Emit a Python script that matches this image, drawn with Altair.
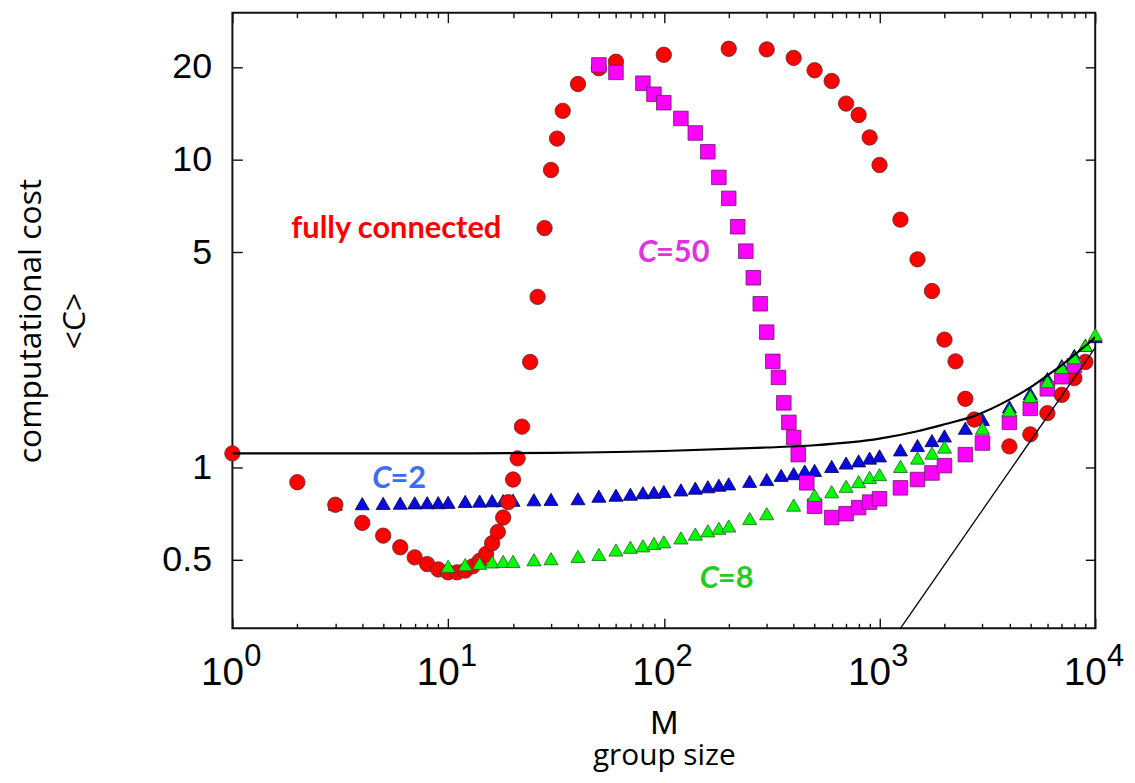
import altair as alt
import pandas as pd

# ---------------- data ----------------
full_M = [1, 2, 3, 4, 5, 6, 7, 8, 9, 10, 11, 12, 13, 14, 15, 16, 17, 18, 19, 20,
          21, 22, 24, 26, 28, 30, 32, 34, 40, 50, 60, 100, 200, 300, 400, 500,
          600, 700, 800, 900, 1000, 1250, 1500, 1750, 2000, 2250, 2500, 2750,
          4000, 5000, 6000, 7000, 8000, 9000]
full_C = [1.11, 0.895, 0.756, 0.66, 0.60, 0.55, 0.51, 0.485, 0.466, 0.456, 0.456,
          0.462, 0.477, 0.497, 0.523, 0.567, 0.617, 0.687, 0.771, 0.913, 1.07,
          1.356, 2.2, 3.58, 5.99, 9.25, 11.7, 14.4, 17.6, 19.8, 20.8, 21.9, 22.9,
          22.8, 21.4, 19.5, 18.0, 15.2, 13.96, 11.8, 9.6, 6.38, 4.74, 3.74, 2.60,
          2.21, 1.67, 1.43, 1.17, 1.28, 1.50, 1.72, 1.95, 2.20]

c2_M = [3, 4, 5, 6, 7, 8, 9, 10, 12, 14, 16, 18, 20, 25, 30, 40, 50, 60, 70, 80,
        90, 100, 120, 140, 160, 180, 200, 250, 300, 350, 400, 450, 500, 600, 700,
        800, 900, 1000, 1250, 1500, 1750, 2000, 2500, 3000, 4000, 5000, 6000,
        7000, 8000, 9000, 10000]
c2_C = [0.76, 0.762, 0.764, 0.765, 0.767, 0.768, 0.768, 0.77, 0.775, 0.777,
        0.779, 0.78, 0.782, 0.785, 0.787, 0.791, 0.806, 0.812, 0.818, 0.827,
        0.83, 0.835, 0.845, 0.856, 0.865, 0.875, 0.884, 0.901, 0.913, 0.942,
        0.954, 0.973, 0.978, 1.007, 1.033, 1.05, 1.072, 1.09, 1.14, 1.178,
        1.222, 1.265, 1.34, 1.432, 1.573, 1.738, 1.944, 2.14, 2.31, 2.49, 2.66]

c8_M = [10, 12, 14, 16, 18, 20, 25, 30, 40, 50, 60, 70, 80, 90, 100, 120, 140,
        160, 180, 200, 250, 300, 400, 500, 600, 700, 800, 900, 1000, 1250, 1500,
        1750, 2000, 3000, 4000, 5000, 6000, 7000, 8000, 9000, 10000]
c8_C = [0.477, 0.483, 0.488, 0.493, 0.495, 0.495, 0.501, 0.505, 0.514, 0.521,
        0.539, 0.55, 0.556, 0.566, 0.573, 0.59, 0.607, 0.622, 0.634, 0.645,
        0.682, 0.707, 0.754, 0.812, 0.833, 0.868, 0.899, 0.928, 0.947, 1.007,
        1.072, 1.113, 1.164, 1.34, 1.535, 1.70, 1.90, 2.11, 2.27, 2.49, 2.70]

c50_M = [50, 60, 80, 90, 100, 120, 140, 160, 180, 200, 220, 240, 260, 280, 300,
         320, 340, 360, 380, 400, 420, 460, 500, 600, 700, 800, 900, 1000, 1250,
         1500, 1750, 2000, 2500, 3000, 4000, 5000, 6000, 7000, 8000]
c50_C = [20.3, 19.2, 17.7, 16.3, 15.3, 13.6, 12.2, 10.6, 8.75, 7.48, 6.05, 5.04,
         4.13, 3.4, 2.75, 2.21, 1.96, 1.62, 1.40, 1.25, 1.10, 0.891, 0.748,
         0.687, 0.707, 0.74, 0.771, 0.791, 0.858, 0.913, 0.959, 1.013, 1.10,
         1.20, 1.40, 1.555, 1.80, 1.97, 2.14]

curve_M = [1, 10, 30, 100, 300, 500, 1000, 1500, 2000, 2750, 4000, 5000, 6000,
           7000, 8000, 9000, 10000]
curve_C = [1.11, 1.11, 1.115, 1.13, 1.16, 1.18, 1.24, 1.31, 1.38, 1.47, 1.66,
           1.82, 1.99, 2.15, 2.32, 2.48, 2.65]

line_M = [1250, 10000]
line_C = [0.3, 2.45]

x_major = [1, 10, 100, 1000, 10000]
x_minor = [m * d for d in [1, 10, 100, 1000] for m in range(2, 10)]
y_ticks = [0.5, 1, 5, 10, 20]

# annotation labels
ann_full = pd.DataFrame({"t": ["fully connected"], "M": [5.75], "C": [5.93]})
ann_sym = ["C", "C", "C"]
ann_rest = ["=50", "=2", "=8"]
ann_M = [92, 5.4, 178]
ann_C = [4.96, 0.913, 0.434]
ann_col = ["#e033e0", "#3d6cf5", "#22cc22"]

# ---------------- chart ----------------
W, H = 869, 620
xs = alt.Scale(type="log", domain=[1, 10000], nice=False)
ys = alt.Scale(type="log", domain=[0.3, 30], nice=False)

LABEL_FONT = "Liberation Sans"
TITLE_FONT = "Open Sans"
ANN_SIZE = 31


def tick_axis(orient, offset, values, size):
    return alt.Axis(orient=orient, offset=offset, values=values, tickSize=size,
                    ticks=True, labels=False, domain=False, grid=False,
                    tickColor="#111", tickWidth=1.4, title=None)


def df(M, C):
    return pd.DataFrame({"M": M, "C": C})


blue = alt.Chart(df(c2_M, c2_C)).mark_point(
    shape="triangle-up", filled=True, size=200, fill="#0a0ae0",
    stroke="#00004a", strokeWidth=0.8, opacity=1
).encode(
    x=alt.X("M:Q", scale=xs, axis=tick_axis("top", -H, x_major, 10)),
    y=alt.Y("C:Q", scale=ys, axis=tick_axis("right", -W, y_ticks, 10)),
)

red = alt.Chart(df(full_M, full_C)).mark_point(
    shape="circle", filled=True, size=240, fill="#ff0000",
    stroke="#5a2a2a", strokeWidth=0.8, opacity=1
).encode(
    x=alt.X("M:Q", scale=xs, axis=alt.Axis(
        orient="bottom", values=x_major, labelExpr="'10'", ticks=False, tickSize=0,
        domain=False, grid=False, labelFont=LABEL_FONT, labelFontSize=39,
        labelColor="#000", labelOffset=-10.5, labelPadding=26, labelFlush=False,
        labelAlign="center", labelOverlap=False,
        title="M", titleFont=LABEL_FONT, titleFontSize=34, titleFontWeight="normal",
        titleColor="#000", titleX=W / 2, titleY=106, titleAlign="center",
        titleBaseline="alphabetic")),
    y=alt.Y("C:Q", scale=ys, axis=alt.Axis(
        orient="left", values=y_ticks, ticks=False, tickSize=0, domain=False,
        grid=False, labelFont=LABEL_FONT, labelFontSize=36, labelColor="#000",
        labelPadding=21, labelOverlap=False, labelFlush=False,
        title=["computational cost", "<C>"], titleFont=TITLE_FONT,
        titleFontSize=32, titleFontWeight="normal", titleColor="#000",
        titleAngle=270, titleX=-203, titleY=H / 2, titleAlign="center",
        titleBaseline="middle", titleLineHeight=44)),
)

mag = alt.Chart(df(c50_M, c50_C)).mark_point(
    shape="square", filled=True, size=215, fill="#ff00ff",
    stroke="#6a186a", strokeWidth=0.8, opacity=1
).encode(
    x=alt.X("M:Q", scale=xs, axis=alt.Axis(
        orient="bottom", values=x_major,
        labelExpr="'' + round(log(datum.value) / LN10)", ticks=False, tickSize=0,
        domain=False, grid=False, labelFont=LABEL_FONT, labelFontSize=31,
        labelColor="#000", labelOffset=20, labelPadding=13, labelFlush=False,
        labelAlign="center", labelOverlap=False,
        title="group size", titleFont=TITLE_FONT, titleFontSize=30,
        titleFontWeight="normal", titleColor="#000", titleX=W / 2, titleY=137,
        titleAlign="center", titleBaseline="alphabetic")),
    y=alt.Y("C:Q", scale=ys, axis=None),
)

green = alt.Chart(df(c8_M, c8_C)).mark_point(
    shape="triangle-up", filled=True, size=200, fill="#00ff00",
    stroke="#1d5e1d", strokeWidth=0.8, opacity=1
).encode(
    x=alt.X("M:Q", scale=xs, axis=tick_axis("bottom", -H, x_major, 10)),
    y=alt.Y("C:Q", scale=ys, axis=tick_axis("left", -W, y_ticks, 10)),
)

curve = alt.Chart(df(curve_M, curve_C)).mark_line(
    color="#000", strokeWidth=2.2, interpolate="monotone", clip=True
).encode(
    x=alt.X("M:Q", scale=xs, axis=tick_axis("top", -H, x_minor, 5)),
    y=alt.Y("C:Q", scale=ys, axis=None),
)

sline = alt.Chart(df(line_M, line_C)).mark_line(
    color="#000", strokeWidth=1.3, clip=True
).encode(
    x=alt.X("M:Q", scale=xs, axis=tick_axis("bottom", -H, x_minor, 5)),
    y=alt.Y("C:Q", scale=ys, axis=None),
)

txt_full = alt.Chart(ann_full).mark_text(
    font="Lato", fontSize=ANN_SIZE, fontWeight="bold", color="#ff0000",
    align="center", baseline="middle"
).encode(
    x=alt.X("M:Q", scale=xs, axis=None),
    y=alt.Y("C:Q", scale=ys, axis=None),
    text="t:N",
)

ann = pd.DataFrame({"s": ann_sym, "r": ann_rest, "M": ann_M, "C": ann_C,
                    "col": ann_col})

txt_sym = alt.Chart(ann).mark_text(
    font="Lato", fontSize=ANN_SIZE, fontWeight="bold", fontStyle="italic",
    align="right", baseline="middle", dx=1
).encode(
    x=alt.X("M:Q", scale=xs, axis=None),
    y=alt.Y("C:Q", scale=ys, axis=None),
    text="s:N",
    color=alt.Color("col:N", scale=None),
)

txt_rest = alt.Chart(ann).mark_text(
    font="Lato", fontSize=ANN_SIZE, fontWeight="bold",
    align="left", baseline="middle"
).encode(
    x=alt.X("M:Q", scale=xs, axis=None),
    y=alt.Y("C:Q", scale=ys, axis=None),
    text="r:N",
    color=alt.Color("col:N", scale=None),
)

chart = alt.layer(
    blue, red, mag, green, curve, sline, txt_full, txt_sym, txt_rest
).resolve_axis(
    x="independent", y="independent"
).properties(
    width=W, height=H,
    autosize=alt.AutoSizeParams(type="none"),
    padding={"left": 226, "top": 2, "right": 32, "bottom": 145},
    background="white",
).configure_view(
    stroke="#111", strokeWidth=2
).configure_axis(
    grid=False
)

chart.save("out.html", embed_options={"renderer": "svg", "actions": False})
